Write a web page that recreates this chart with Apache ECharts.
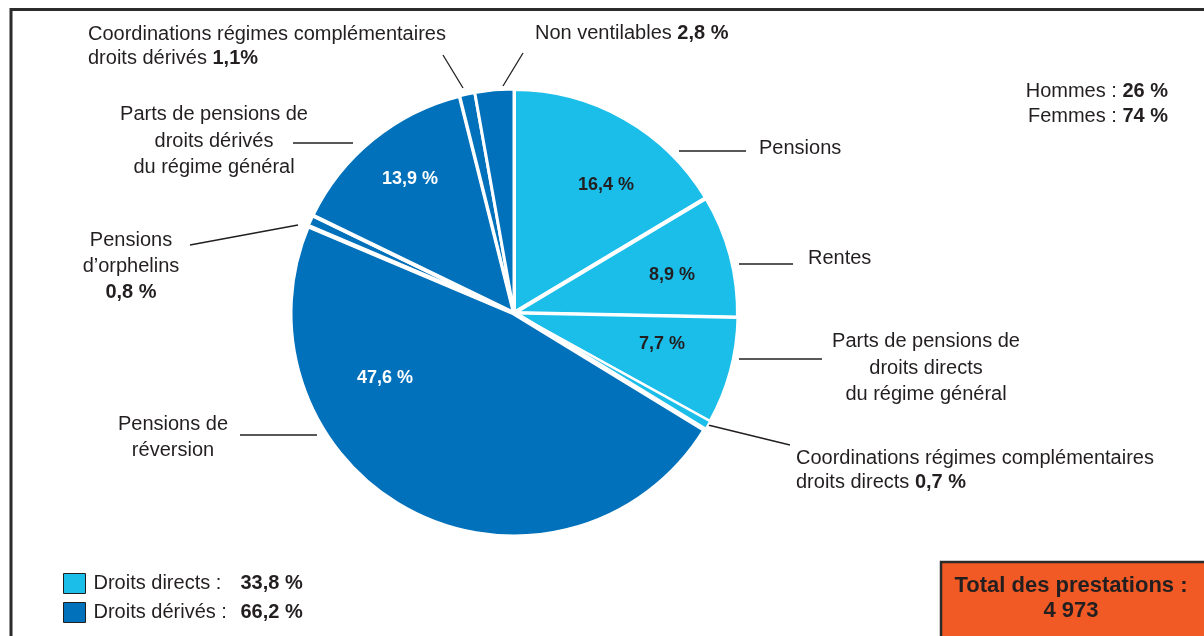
<!DOCTYPE html>
<html>
<head>
<meta charset="utf-8">
<title>Prestations</title>
<script src="https://cdn.jsdelivr.net/npm/echarts@6/dist/echarts.min.js"></script>
<style>
  html, body { margin: 0; padding: 0; background: #fff; }
  #main { width: 1204px; height: 636px; }
</style>
</head>
<body>
<div id="main"></div>
<script>
// données
var sliceNames = ['Pensions', 'Rentes', 'Parts droits directs RG', 'Coord. droits directs',
  'Pensions de réversion', 'Pensions d’orphelins', 'Parts droits dérivés RG',
  'Coord. droits dérivés', 'Non ventilables'];
var sliceValues = [16.4, 8.9, 7.7, 0.7, 47.6, 0.8, 13.9, 1.1, 2.8];
var sliceGroup = [0, 0, 0, 0, 1, 1, 1, 1, 1];
var outerTexts = [
  'Pensions',
  'Rentes',
  'Parts de pensions de\ndroits directs\ndu régime général',
  'Coordinations régimes complémentaires\ndroits directs {b|{v} %}',
  'Pensions de\nréversion',
  'Pensions\nd’orphelins\n{b|{v} %}',
  'Parts de pensions de\ndroits dérivés\ndu régime général',
  'Coordinations régimes complémentaires\ndroits dérivés {b|{v}%}',
  'Non ventilables {b|{v} %}'
];
var showInside = [true, true, true, false, true, false, true, false, false];
var groupNames = ['Droits directs', 'Droits dérivés'];
var groupValues = [33.8, 66.2];
var sexNames = ['Hommes', 'Femmes'];
var sexValues = [26, 74];
var totalPrestations = 4973;

// mise en page
var colors = ['#1bbde9', '#0071ba'];
var insideColor = ['#231f20', '#231f20', '#231f20', null, '#fff', null, '#fff', null, null];
var sliceBorder = [4, 4, 3, 2, 5, 4, 4, 3, 3];
var insidePos = [[606, 185], [672, 275], [662, 344], null, [385, 378], null, [410, 179], null, null];
var outerLayout = [
  { x: 759, y: 148, align: 'left', lh: 26, line: [[679, 151], [746, 151]] },
  { x: 808, y: 258, align: 'left', lh: 26, line: [[739, 264], [793, 264]] },
  { x: 926, y: 368, align: 'center', lh: 26.5, line: [[739, 359], [822, 359]] },
  { x: 796, y: 470, align: 'left', lh: 24, line: [[708, 425], [790, 445]] },
  { x: 173, y: 437, align: 'center', lh: 26, line: [[240, 435], [317, 435]] },
  { x: 131, y: 266, align: 'center', lh: 26, line: [[190, 245], [298, 225]] },
  { x: 214, y: 141, align: 'center', lh: 26.5, line: [[293, 143], [353, 143]] },
  { x: 88, y: 46, align: 'left', lh: 24, line: [[443, 55], [463, 88]] },
  { x: 535, y: 33, align: 'left', lh: 24, line: [[523, 53], [503, 86]] }
];
var FONT = '"Liberation Sans", Arial, Helvetica, sans-serif';
var INK = '#231f20';

function fmt(v) {
  return v.toFixed(1).replace('.', ',');
}

var innerData = sliceValues.map(function (v, i) {
  return {
    name: sliceNames[i],
    value: v,
    itemStyle: { color: colors[sliceGroup[i]], borderColor: '#fff', borderWidth: sliceBorder[i] },
    label: {
      show: showInside[i],
      color: insideColor[i] || INK
    }
  };
});

var outerData = sliceValues.map(function (v, i) {
  var lh = outerLayout[i].lh;
  return {
    name: sliceNames[i],
    value: v,
    label: {
      lineHeight: lh,
      rich: { b: { fontWeight: 'bold', fontSize: 20, lineHeight: lh, color: INK, fontFamily: FONT } }
    }
  };
});

var myChart = echarts.init(document.getElementById('main'));

var option = {
  backgroundColor: '#fff',
  animation: false,
  textStyle: { fontFamily: FONT },
  legend: {
    orient: 'vertical',
    left: 63,
    top: 573,
    padding: 0,
    itemWidth: 22,
    itemHeight: 20,
    itemGap: 8,
    icon: 'rect',
    selectedMode: false,
    itemStyle: { borderColor: INK, borderWidth: 1 },
    data: groupNames,
    formatter: function (name) {
      var i = groupNames.indexOf(name);
      return '{a|' + name + ' :}{b|' + fmt(groupValues[i]) + ' %}';
    },
    textStyle: {
      fontFamily: FONT,
      fontSize: 20,
      color: INK,
      rich: {
        a: { fontSize: 20, color: INK, width: 147, padding: [0, 0, 0, 3], fontFamily: FONT },
        b: { fontSize: 20, color: INK, fontWeight: 'bold', fontFamily: FONT }
      }
    }
  },
  graphic: [
    {
      type: 'rect', z: -1, silent: true,
      shape: { x: 11, y: 9.5, width: 1400, height: 800 },
      style: { fill: 'none', stroke: '#2b2b2b', lineWidth: 3 }
    },
    {
      type: 'text', silent: true,
      x: 1168, y: 79,
      style: {
        text: sexNames.map(function (n, i) { return n + ' : {b|' + sexValues[i] + ' %}'; }).join('\n'),
        align: 'right',
        font: '20px ' + FONT,
        fill: INK,
        lineHeight: 25,
        rich: { b: { fontWeight: 'bold', fontSize: 20, lineHeight: 25, fill: INK, fontFamily: FONT } }
      }
    },
    {
      type: 'rect', silent: true,
      shape: { x: 941, y: 562, width: 300, height: 120 },
      style: { fill: '#f15a24', stroke: '#2b2b2b', lineWidth: 2.5 }
    },
    {
      type: 'text', silent: true,
      x: 1071, y: 598,
      style: {
        text: 'Total des prestations :\n' + String(totalPrestations).replace(/\B(?=(\d{3})+(?!\d))/g, ' '),
        align: 'center',
        verticalAlign: 'middle',
        font: 'bold 22px ' + FONT,
        fill: INK,
        lineHeight: 25
      }
    }
  ],
  series: [
    {
      name: 'parts',
      type: 'pie',
      center: [514, 313],
      radius: [0, 224],
      startAngle: 90,
      clockwise: true,
      silent: true,
      avoidLabelOverlap: false,
      label: {
        position: 'inside',
        fontFamily: FONT,
        fontSize: 18,
        fontWeight: 'bold',
        formatter: function (p) { return fmt(p.value) + ' %'; }
      },
      labelLine: { show: false },
      labelLayout: function (p) {
        var pos = insidePos[p.dataIndex];
        if (!pos) return {};
        return { x: pos[0], y: pos[1], align: 'center', verticalAlign: 'middle' };
      },
      data: innerData
    },
    {
      name: 'libelles',
      type: 'pie',
      center: [514, 313],
      radius: [0, 224],
      startAngle: 90,
      clockwise: true,
      silent: true,
      avoidLabelOverlap: false,
      itemStyle: { color: 'rgba(0,0,0,0)', borderWidth: 0 },
      label: {
        show: true,
        position: 'outside',
        color: INK,
        fontFamily: FONT,
        fontSize: 20,
        formatter: function (p) {
          return outerTexts[p.dataIndex].replace('{v}', fmt(p.value));
        }
      },
      labelLine: { show: true, lineStyle: { color: INK, width: 1.3 } },
      labelLayout: function (p) {
        var L = outerLayout[p.dataIndex];
        return {
          x: L.x, y: L.y, align: L.align, verticalAlign: 'middle',
          labelLinePoints: [L.line[0], L.line[1], L.line[1]]
        };
      },
      data: outerData
    },
    {
      name: 'groupes',
      type: 'pie',
      center: [514, 313],
      radius: [0, 0],
      silent: true,
      label: { show: false },
      labelLine: { show: false },
      data: groupNames.map(function (n, i) {
        return { name: n, value: groupValues[i], itemStyle: { color: colors[i] } };
      })
    }
  ]
};

myChart.setOption(option);
</script>
</body>
</html>
